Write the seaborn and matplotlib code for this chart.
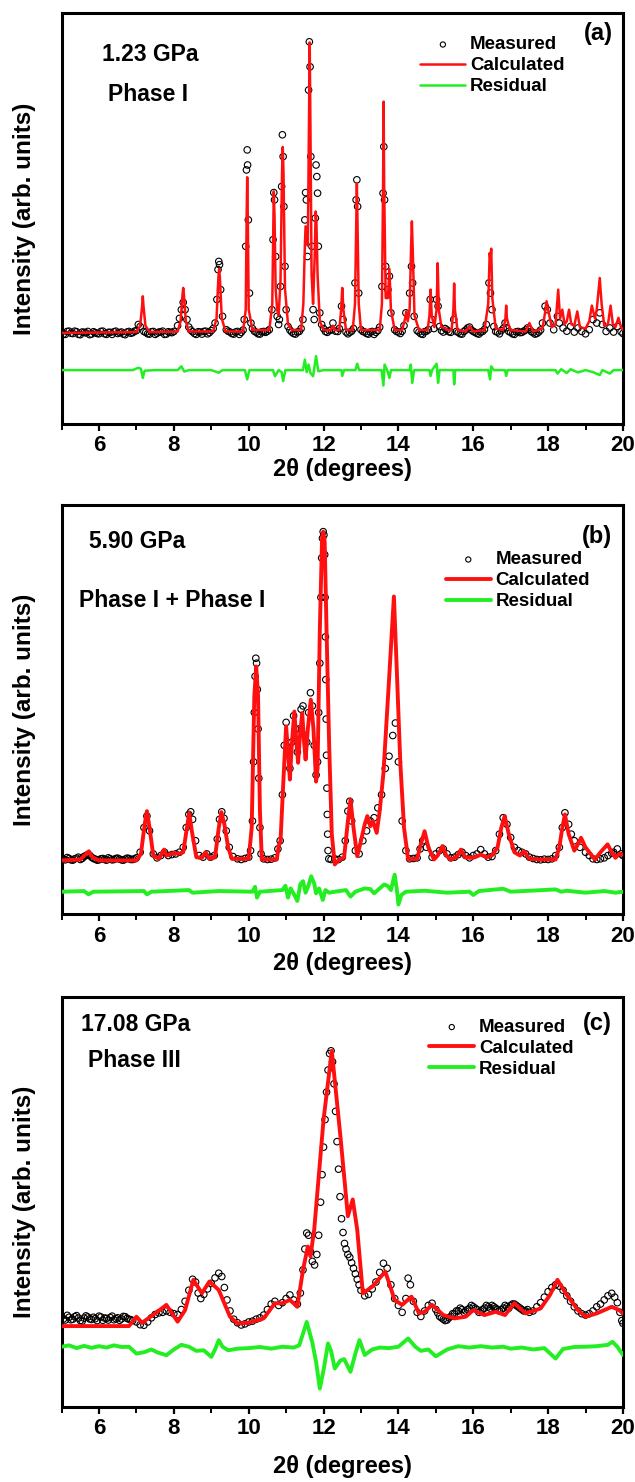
import matplotlib
matplotlib.use("Agg")
import matplotlib.pyplot as plt
import seaborn as sns
from matplotlib.ticker import MultipleLocator

# ---------------- Panel (a): 1.23 GPa, Phase I ----------------
meas_a_x = [5.0, 5.1, 5.2, 5.3, 5.4, 5.5, 5.6, 5.7, 5.8, 5.9, 6.0, 6.1, 6.2, 6.3, 6.4, 6.5, 6.6, 6.7, 6.8, 6.9,
            7.0, 7.05, 7.1, 7.2, 7.3, 7.4, 7.5, 7.6, 7.7, 7.8, 7.9, 8.0, 8.1, 8.15, 8.2, 8.25, 8.3, 8.35, 8.4, 8.5,
            8.6, 8.7, 8.8, 8.9, 9.0, 9.1, 9.15, 9.18, 9.2, 9.22, 9.25, 9.3, 9.4, 9.5, 9.6, 9.7, 9.8, 9.88, 9.92, 9.94,
            9.96, 9.97, 9.99, 10.02, 10.06, 10.15, 10.25, 10.35, 10.45, 10.55, 10.62, 10.65, 10.67, 10.69, 10.72, 10.76, 10.8, 10.82, 10.85, 10.88,
            10.9, 10.92, 10.94, 10.97, 11.0, 11.05, 11.15, 11.25, 11.35, 11.45, 11.5, 11.52, 11.54, 11.57, 11.6, 11.62, 11.64, 11.66, 11.69, 11.72,
            11.75, 11.78, 11.8, 11.82, 11.84, 11.86, 11.9, 11.95, 12.05, 12.15, 12.25, 12.32, 12.42, 12.48, 12.52, 12.6, 12.7, 12.8, 12.84, 12.87,
            12.89, 12.91, 12.94, 13.0, 13.1, 13.2, 13.3, 13.4, 13.5, 13.56, 13.59, 13.61, 13.63, 13.66, 13.72, 13.76, 13.8, 13.9, 14.0, 14.1,
            14.2, 14.3, 14.35, 14.38, 14.42, 14.5, 14.6, 14.7, 14.8, 14.85, 14.9, 14.95, 15.02, 15.06, 15.1, 15.2, 15.3, 15.4, 15.48, 15.55,
            15.65, 15.75, 15.85, 15.95, 16.05, 16.15, 16.25, 16.35, 16.42, 16.46, 16.5, 16.55, 16.65, 16.75, 16.85, 16.95, 17.05, 17.15, 17.25, 17.35,
            17.45, 17.55, 17.65, 17.75, 17.85, 17.92, 17.98, 18.05, 18.15, 18.25, 18.3, 18.4, 18.5, 18.6, 18.7, 18.8, 18.9, 19.0, 19.1, 19.2,
            19.3, 19.38, 19.45, 19.55, 19.65, 19.75, 19.85, 19.95, 20.0]
meas_a_y = [0.3, -0.5, 0.6, -0.2, 0.4, -0.6, 0.2, 0.5, -0.4, 0.1, -0.3, 0.6, -0.5, 0.2, 0.4, -0.2, 0.3, -0.6, 0.5, 0.1,
            0.8, 2.9, 2.2, 0.5, -0.3, 0.4, -0.5, 0.3, 0.6, -0.4, 0.2, 0.5, 2.5, 5.0, 8.0, 10.5, 8.0, 4.6, 2.0, 0.4,
            -0.5, 0.3, 0.5, -0.3, 0.8, 3.4, 11.5, 21.8, 24.6, 23.5, 14.9, 5.7, 1.1, 0.3, -0.4, 0.5, 0.2, 4.6, 29.8, 56.1,
            63.0, 57.8, 38.9, 13.7, 3.4, 0.6, -0.3, 0.4, 0.2, 1.1, 8.0, 32.1, 48.3, 45.8, 26.3, 5.7, 2.9, 4.6, 16.0, 50.4,
            68.2, 60.7, 43.5, 22.9, 8.0, 2.2, 0.3, -0.4, 0.5, 4.6, 38.9, 48.3, 45.8, 26.3, 83.6, 100.2, 91.6, 60.7, 29.8, 8.0,
            4.6, 39.5, 57.8, 53.8, 48.1, 29.8, 6.9, 2.9, 0.5, 0.8, 3.4, 0.6, 1.5, 9.2, 4.6, 0.3, 0.2, 1.5, 17.2, 45.8,
            52.7, 43.5, 13.7, 1.1, 0.3, -0.4, 0.5, 0.2, 2.0, 16.0, 48.1, 64.1, 45.8, 22.9, 14.9, 19.5, 6.9, 1.1, 0.3, 0.6,
            6.9, 13.7, 22.9, 17.2, 5.7, 0.8, -0.3, 0.4, 1.1, 11.5, 4.6, 1.5, 11.5, 9.2, 2.2, 0.3, 1.0, 0.2, 4.6, 0.5,
            -0.3, 0.5, 1.7, 1.0, 0.2, -0.4, 0.5, 2.9, 17.2, 13.7, 8.0, 2.2, 0.3, 0.8, 3.4, 0.5, -0.3, 0.4, 0.1, 0.6,
            1.7, 0.5, -0.4, 0.3, 3.4, 9.2, 8.0, 3.4, 1.1, 5.7, 3.4, 1.7, 0.6, 2.2, 0.3, 1.7, 0.5, -0.3, 1.1, 4.6,
            3.4, 6.9, 2.9, 0.5, 1.7, 0.3, 2.2, 0.4, -0.2]
# extra background readings (interleaved)
meas_a_x2 = [5.05, 5.15, 5.25, 5.35, 5.45, 5.55, 5.65, 5.75, 5.85, 5.95, 6.05, 6.15, 6.25, 6.35, 6.45, 6.55, 6.65, 6.75, 6.85, 6.95,
             7.25, 7.35, 7.45, 7.55, 7.65, 7.75, 7.85, 7.95, 8.45, 8.55, 8.65, 8.75, 8.85, 8.95, 9.05, 9.45, 9.55, 9.65, 9.75, 9.85,
             10.1, 10.2, 10.3, 10.4, 10.5, 11.1, 11.2, 11.3, 11.4, 12.0, 12.1, 12.2, 12.38, 12.65, 12.75, 13.05, 13.15, 13.25, 13.35, 13.45,
             13.95, 14.05, 14.15, 14.55, 14.65, 14.75, 15.15, 15.25, 15.35, 15.6, 15.7, 15.8, 15.9, 16.0, 16.1, 16.2, 16.3, 16.6, 16.7, 16.8,
             16.9, 17.0, 17.1, 17.2, 17.3, 17.4, 17.5, 17.6, 17.7, 17.8]
meas_a_y2 = [-0.4, 0.5, -0.1, 0.6, -0.5, 0.3, 0.0, -0.6, 0.4, -0.2, 0.5, -0.3, 0.2, -0.5, 0.6, 0.1, -0.4, 0.3, -0.1, 0.6,
             0.2, -0.4, 0.5, -0.1, 0.3, -0.5, 0.4, 0.1, 1.0, -0.2, 0.4, -0.4, 0.6, 0.1, 1.5, 0.6, -0.2, 0.3, -0.5, 1.0,
             1.5, 0.2, -0.4, 0.5, 0.6, 1.0, -0.2, 0.3, 1.5, 1.5, 0.2, 1.0, 0.5, -0.3, 0.6, 0.5, -0.2, 0.3, -0.5, 0.8,
             0.5, -0.2, 2.5, 0.3, -0.5, 0.6, 0.8, 1.5, 0.4, 0.2, -0.4, 1.0, 2.0, 0.5, -0.2, 0.3, 1.2, 0.5, -0.3, 1.5,
             1.8, 0.2, -0.5, 0.5, 0.2, 1.0, 1.2, 0.1, -0.2, 1.0]

calc_a_x = [5.0, 7.0, 7.1, 7.15, 7.17, 7.19, 7.24, 7.35, 8.1, 8.18, 8.23, 8.25, 8.27, 8.32, 8.4,
            9.05, 9.14, 9.19, 9.21, 9.23, 9.28, 9.38, 9.85, 9.92, 9.945, 9.96, 9.975, 10.0, 10.1,
            10.55, 10.63, 10.66, 10.67, 10.69, 10.72, 10.76, 10.8, 10.85, 10.89, 10.91, 10.93, 10.97, 11.05, 11.15,
            11.4, 11.46, 11.5, 11.52, 11.58, 11.61, 11.63, 11.65, 11.68, 11.72, 11.76, 11.79, 11.81, 11.84, 11.9, 12.0,
            12.2, 12.25, 12.3, 12.42, 12.47, 12.5, 12.53, 12.6, 12.78, 12.84, 12.875, 12.89, 12.905, 12.94, 13.0,
            13.5, 13.56, 13.59, 13.605, 13.62, 13.66, 13.72, 13.76, 13.8, 13.9,
            14.1, 14.18, 14.21, 14.25, 14.3, 14.34, 14.36, 14.38, 14.43, 14.55,
            14.78, 14.83, 14.86, 14.89, 14.96, 15.02, 15.05, 15.08, 15.15, 15.22, 15.3, 15.42, 15.47, 15.49, 15.51, 15.58,
            15.8, 15.9, 16.0, 16.3, 16.4, 16.44, 16.46, 16.48, 16.51, 16.6, 16.8, 16.86, 16.88, 16.9, 16.98,
            17.4, 17.5, 17.6, 17.85, 17.92, 17.96, 18.0, 18.1, 18.2, 18.27, 18.32, 18.38, 18.44, 18.5, 18.56, 18.62,
            18.7, 18.78, 18.85, 19.0, 19.1, 19.17, 19.25, 19.3, 19.38, 19.43, 19.5, 19.6, 19.67, 19.73, 19.8, 19.88, 19.95, 20.0]
calc_a_y = [0.0, 0.3, 2.5, 9.0, 12.6, 9.0, 2.5, 0.3, 0.5, 4.0, 13.0, 15.5, 13.0, 4.0, 0.5,
            0.5, 5.0, 19.0, 22.0, 19.0, 5.0, 0.5, 0.5, 8.0, 40.0, 53.6, 40.0, 8.0, 1.0,
            1.0, 10.0, 40.0, 48.7, 40.0, 15.0, 8.0, 6.0, 18.0, 55.0, 64.0, 55.0, 15.0, 3.0, 1.0,
            1.0, 10.0, 30.0, 36.7, 30.0, 70.0, 100.0, 70.0, 20.0, 10.0, 25.0, 41.8, 38.0, 20.0, 4.0, 1.0,
            1.0, 2.5, 1.0, 1.0, 8.0, 15.5, 8.0, 1.0, 1.0, 10.0, 40.0, 51.5, 40.0, 10.0, 1.0,
            1.0, 10.0, 50.0, 79.6, 50.0, 12.0, 12.0, 22.0, 8.0, 1.0,
            1.0, 5.0, 7.4, 4.0, 8.0, 30.0, 38.4, 30.0, 6.0, 1.0,
            1.0, 6.0, 14.9, 6.0, 2.0, 8.0, 24.0, 8.0, 2.0, 1.8, 1.0, 1.0, 8.0, 17.0, 8.0, 1.0,
            0.5, 2.3, 0.5, 1.0, 10.0, 27.5, 25.0, 29.0, 12.0, 1.5, 1.0, 5.0, 9.4, 5.0, 1.0,
            0.5, 3.4, 0.5, 1.5, 7.0, 10.9, 8.0, 2.0, 3.0, 14.9, 5.0, 8.0, 3.0, 4.0, 8.0, 3.0,
            2.5, 7.4, 2.0, 1.5, 4.0, 9.4, 5.0, 8.0, 18.9, 10.0, 2.5, 3.0, 9.4, 3.0, 2.0, 5.2, 2.0, 1.0]

res_a_x = [5.0, 6.9, 7.05, 7.12, 7.17, 7.22, 7.5, 8.1, 8.2, 8.28, 8.4, 9.0, 9.2, 9.3, 9.9, 9.96, 10.02,
           10.65, 10.7, 10.8, 10.88, 10.92, 10.98, 11.45, 11.5, 11.55, 11.6, 11.65, 11.72, 11.8, 11.86, 12.0,
           12.48, 12.5, 12.55, 12.85, 12.9, 12.95, 13.55, 13.6, 13.63, 13.7, 13.76, 13.8, 14.3, 14.33, 14.37, 14.42,
           14.83, 14.86, 14.9, 15.02, 15.06, 15.1, 15.47, 15.49, 15.52, 16.4, 16.45, 16.48, 16.55, 16.85, 16.88, 16.92,
           18.2, 18.25, 18.35, 18.5, 18.6, 18.8, 19.0, 19.2, 19.38, 19.45, 19.65, 19.75, 20.0]
res_a_y = [-12.8, -12.8, -12.0, -12.3, -15.5, -13.0, -12.8, -12.8, -11.5, -13.3, -12.8, -12.8, -13.7, -12.8, -12.8, -16.0, -12.8,
           -12.8, -14.9, -12.8, -13.5, -16.6, -12.8, -12.8, -9.2, -13.5, -10.9, -13.8, -14.9, -8.0, -13.2, -12.8,
           -12.8, -14.8, -12.8, -12.8, -10.6, -12.8, -12.8, -18.1, -10.9, -12.8, -15.5, -12.8, -12.8, -10.9, -17.2, -12.8,
           -12.8, -14.8, -12.8, -10.6, -17.2, -12.8, -12.8, -17.7, -12.8, -12.8, -16.0, -11.5, -12.8, -12.8, -14.8, -12.8,
           -12.8, -14.0, -12.5, -13.8, -12.5, -13.6, -12.8, -13.5, -14.5, -12.8, -14.0, -12.8, -12.8]

# ---------------- Panel (b): 5.90 GPa ----------------
meas_b_x = [5.0, 5.1, 5.2, 5.3, 5.4, 5.5, 5.6, 5.7, 5.8, 5.9, 6.0, 6.1, 6.2, 6.3, 6.4, 6.5, 6.6, 6.7, 6.8, 6.9,
            7.0, 7.1, 7.2, 7.28, 7.35, 7.45, 7.55, 7.65, 7.75, 7.85, 7.95, 8.05, 8.15, 8.25, 8.33, 8.4, 8.45, 8.5, 8.58, 8.68,
            8.78, 8.88, 8.98, 9.08, 9.16, 9.22, 9.28, 9.34, 9.4, 9.48, 9.58, 9.7, 9.8, 9.9, 10.0, 10.05, 10.1, 10.13, 10.15, 10.17,
            10.19, 10.21, 10.23, 10.25, 10.27, 10.3, 10.33, 10.4, 10.5, 10.6, 10.7, 10.78, 10.84, 10.9, 10.95, 11.0, 11.05, 11.1, 11.15, 11.2,
            11.25, 11.3, 11.35, 11.4, 11.45, 11.5, 11.55, 11.6, 11.65, 11.7, 11.75, 11.8, 11.84, 11.87, 11.9, 11.93, 11.95, 11.97, 11.99, 12.01,
            12.03, 12.04, 12.05, 12.06, 12.07, 12.08, 12.09, 12.1, 12.11, 12.12, 12.14, 12.2, 12.3, 12.4, 12.5, 12.58, 12.65, 12.7, 12.75, 12.85,
            12.95, 13.05, 13.15, 13.25, 13.35, 13.45, 13.55, 13.65, 13.75, 13.85, 13.92, 14.0, 14.1, 14.2, 14.3, 14.4, 14.5, 14.58, 14.65, 14.75,
            14.9, 15.0, 15.1, 15.2, 15.3, 15.4, 15.5, 15.6, 15.7, 15.8, 15.9, 16.0, 16.1, 16.2, 16.3, 16.4, 16.5, 16.6, 16.7, 16.8,
            16.9, 17.0, 17.1, 17.2, 17.3, 17.4, 17.5, 17.6, 17.7, 17.8, 17.9, 18.0, 18.1, 18.2, 18.3, 18.38, 18.45, 18.55, 18.62, 18.7,
            18.85, 19.0, 19.1, 19.2, 19.3, 19.4, 19.5, 19.6, 19.7, 19.75, 19.85, 19.95, 20.0]
meas_b_y = [0.8, 0.2, 0.6, 0.1, 0.7, 0.3, 1.2, 1.8, 1.0, 0.4, 0.2, 0.6, 0.1, 0.5, 0.3, 0.7, 0.2, 0.4, 0.6, 0.3,
            0.8, 2.5, 10.0, 13.5, 9.0, 2.0, 0.8, 1.5, 2.5, 1.5, 1.8, 2.0, 2.5, 4.0, 10.0, 14.0, 14.8, 12.5, 6.0, 1.5,
            1.0, 2.0, 1.0, 1.5, 6.5, 12.5, 14.8, 12.8, 9.0, 4.0, 1.2, 0.5, 0.3, 0.6, 1.0, 3.0, 12.0, 30.0, 45.0, 56.0,
            61.5, 60.0, 52.0, 40.0, 25.0, 10.0, 2.0, 0.5, 0.3, 0.4, 0.8, 3.5, 6.0, 20.0, 35.0, 42.0, 34.0, 28.0, 36.0, 44.0,
            40.0, 33.0, 40.0, 46.0, 47.0, 38.0, 36.0, 45.0, 51.0, 47.0, 35.0, 26.0, 30.0, 45.0, 60.0, 80.0, 92.0, 98.0, 100.0, 99.0,
            93.0, 80.0, 68.0, 55.0, 43.0, 32.0, 22.0, 14.0, 8.0, 3.0, 0.5, 0.3, 0.5, 0.3, 1.0, 6.0, 15.0, 18.0, 12.0, 3.0,
            2.0, 6.0, 9.0, 12.0, 13.0, 16.0, 20.0, 28.0, 31.7, 38.0, 41.8, 30.0, 12.0, 3.0, 0.5, 0.6, 0.8, 3.5, 6.0, 4.0,
            1.0, 2.0, 3.0, 3.5, 2.0, 0.8, 1.0, 1.8, 2.5, 1.5, 0.8, 1.5, 2.0, 3.3, 2.0, 1.0, 1.2, 3.0, 8.0, 13.0,
            11.0, 7.0, 4.0, 3.0, 2.5, 2.0, 1.0, 0.6, 0.3, 0.2, 0.4, 0.3, 0.5, 1.5, 4.0, 10.0, 14.5, 11.0, 8.0, 6.0,
            4.0, 2.5, 1.5, 0.5, 0.3, 0.5, 0.8, 1.5, 2.2, 2.5, 3.5, 2.0, 1.5]
meas_b_x2 = [5.05, 5.15, 5.25, 5.35, 5.45, 5.55, 5.65, 5.75, 5.85, 5.95, 6.05, 6.15, 6.25, 6.35, 6.45, 6.55, 6.65, 6.75, 6.85, 6.95]
meas_b_y2 = [0.4, 0.9, 0.2, 0.5, 1.0, 0.6, 1.5, 1.6, 0.6, 0.1, 0.5, 0.3, 0.8, 0.2, 0.6, 0.4, 0.1, 0.7, 0.3, 0.5]

calc_b_x = [5.0, 5.5, 5.65, 5.73, 5.82, 6.0, 7.0, 7.12, 7.22, 7.28, 7.35, 7.45, 7.6, 7.7, 7.74, 7.8, 7.92, 8.0, 8.12,
            8.25, 8.35, 8.41, 8.48, 8.6, 8.75, 8.85, 8.95, 9.1, 9.2, 9.27, 9.35, 9.45, 9.55, 10.0, 10.08, 10.15, 10.2,
            10.25, 10.3, 10.35, 10.75, 10.8, 10.85, 10.93, 11.0, 11.07, 11.1, 11.15, 11.22, 11.28, 11.32, 11.37, 11.43,
            11.48, 11.52, 11.58, 11.66, 11.73, 11.8, 11.84, 11.9, 11.96, 11.99, 12.03, 12.08, 12.15, 12.22, 12.3, 12.4,
            12.55, 12.65, 12.72, 12.8, 12.9, 13.0, 13.1, 13.17, 13.25, 13.32, 13.42, 13.5, 13.6, 13.75, 13.88, 13.95,
            14.05, 14.15, 14.26, 14.5, 14.6, 14.7, 14.8, 14.95, 15.05, 15.18, 15.28, 15.4, 15.55, 15.67, 15.78, 15.9,
            16.05, 16.2, 16.35, 16.5, 16.65, 16.75, 16.84, 16.95, 17.1, 17.25, 17.36, 17.5, 17.8, 18.2, 18.3, 18.38,
            18.45, 18.55, 18.7, 18.8, 18.88, 19.0, 19.25, 19.4, 19.59, 19.7, 19.8, 19.9, 20.0]
calc_b_y = [0.0, 0.3, 2.0, 2.8, 1.0, 0.0, 0.0, 2.0, 11.0, 15.0, 10.0, 1.5, 0.5, 2.5, 3.3, 1.5, 2.0, 2.3, 2.0,
            2.5, 10.0, 14.5, 9.0, 1.0, 0.8, 2.5, 0.5, 1.0, 10.0, 14.7, 11.0, 4.0, 0.5, 0.5, 10.0, 50.0, 59.0,
            50.0, 15.0, 0.3, 0.3, 4.4, 6.0, 25.0, 40.8, 30.0, 24.6, 35.0, 45.3, 35.0, 29.7, 38.0, 44.8,
            36.0, 30.7, 40.0, 48.9, 40.0, 24.0, 28.0, 70.0, 98.0, 100.0, 97.0, 70.0, 35.0, 8.0, -1.2, 0.0,
            1.0, 12.0, 18.5, 10.0, 1.3, 6.0, 11.0, 13.5, 10.4, 12.0, 8.4, 15.0, 26.6, 55.0, 80.3, 60.0,
            30.0, 10.0, 0.3, 0.5, 5.0, 8.9, 4.0, 0.3, 1.5, 4.4, 1.5, 0.3, 1.0, 3.3, 1.0, 0.8,
            1.0, 1.8, 1.0, 1.5, 4.0, 10.0, 13.5, 8.0, 2.5, 1.5, 2.8, 0.5, 0.3, 0.3, 4.0, 10.0,
            14.0, 8.0, 3.0, 5.0, 6.9, 4.0, 0.3, 2.5, 4.9, 2.5, 0.8, 2.0, 1.8]

res_b_x = [5.0, 5.6, 5.72, 5.85, 7.2, 7.28, 7.4, 8.4, 8.5, 9.2, 10.1, 10.17, 10.22, 10.3, 10.9, 10.98, 11.05, 11.12,
           11.22, 11.3, 11.38, 11.45, 11.52, 11.6, 11.67, 11.75, 11.8, 11.88, 11.98, 12.05, 12.15, 12.3, 12.6, 12.72,
           12.85, 13.1, 13.25, 13.35, 13.5, 13.62, 13.72, 13.8, 13.9, 13.96, 14.0, 14.08, 14.2, 14.7, 15.3, 15.9, 16.0,
           16.15, 16.8, 17.0, 18.2, 18.35, 18.5, 19.0, 19.5, 19.8, 20.0]
res_b_y = [-9.5, -9.3, -10.3, -9.5, -9.3, -10.3, -9.5, -9.0, -9.8, -9.3, -9.5, -8.0, -11.3, -9.5, -9.0, -7.7, -11.3, -8.5,
           -10.5, -12.3, -7.2, -6.3, -9.8, -7.5, -4.8, -7.0, -10.0, -8.5, -12.0, -9.0, -9.8, -9.5, -9.0, -11.0,
           -9.5, -8.5, -8.7, -10.0, -8.5, -7.3, -7.8, -9.0, -4.3, -9.0, -13.4, -10.5, -9.5, -9.2, -9.8, -9.5, -10.5,
           -9.3, -8.6, -9.5, -8.8, -9.5, -9.2, -9.8, -9.3, -9.8, -9.5]

# ---------------- Panel (c): 17.08 GPa, Phase III ----------------
meas_c_x = [5.0, 5.1, 5.2, 5.3, 5.4, 5.5, 5.6, 5.7, 5.8, 5.9, 6.0, 6.1, 6.2, 6.3, 6.4, 6.5, 6.6, 6.7, 6.8, 6.9,
            7.0, 7.1, 7.2, 7.3, 7.4, 7.5, 7.6, 7.7, 7.8, 7.9, 8.0, 8.1, 8.2, 8.3, 8.4, 8.5, 8.58, 8.65, 8.72, 8.8,
            8.9, 9.0, 9.1, 9.2, 9.28, 9.35, 9.42, 9.5, 9.6, 9.7, 9.8, 9.9, 10.0, 10.1, 10.2, 10.3, 10.4, 10.5, 10.6, 10.7,
            10.8, 10.9, 11.0, 11.1, 11.2, 11.3, 11.38, 11.45, 11.5, 11.55, 11.6, 11.65, 11.7, 11.76, 11.82, 11.87, 11.92, 11.96, 12.0, 12.04,
            12.08, 12.12, 12.16, 12.2, 12.24, 12.28, 12.32, 12.36, 12.4, 12.44, 12.48, 12.52, 12.56, 12.6, 12.65, 12.7, 12.75, 12.8, 12.85, 12.9,
            12.95, 13.0, 13.1, 13.2, 13.3, 13.4, 13.5, 13.6, 13.7, 13.8, 13.9, 14.0, 14.1, 14.2, 14.26, 14.32, 14.4, 14.5, 14.6, 14.7,
            14.8, 14.9, 15.0, 15.1, 15.2, 15.3, 15.4, 15.5, 15.6, 15.7, 15.8, 15.9, 16.0, 16.1, 16.2, 16.3, 16.4, 16.5, 16.6, 16.7,
            16.8, 16.9, 17.0, 17.1, 17.2, 17.3, 17.4, 17.5, 17.6, 17.7, 17.8, 17.9, 18.0, 18.1, 18.2, 18.3, 18.4, 18.5, 18.6, 18.7,
            18.8, 18.9, 19.0, 19.1, 19.2, 19.3, 19.4, 19.5, 19.6, 19.7, 19.78, 19.85, 19.92, 19.97, 20.0]
meas_c_y = [3.5, 2.2, 3.2, 2.5, 3.8, 2.0, 2.9, 3.3, 2.4, 2.7, 3.6, 2.1, 2.8, 3.1, 2.3, 3.0, 2.6, 3.4, 2.5, 2.0,
            1.5, 0.5, 0.3, 1.5, 3.0, 4.2, 4.8, 5.0, 5.5, 5.0, 4.5, 4.2, 6.0, 9.0, 13.0, 17.0, 16.0, 12.0, 10.0, 11.5,
            13.5, 15.5, 17.5, 19.2, 18.0, 14.0, 9.5, 5.5, 2.5, 1.2, 0.4, 0.8, 1.5, 1.8, 2.5, 3.0, 4.0, 6.0, 8.0, 9.0,
            7.5, 8.5, 10.0, 11.3, 9.5, 8.0, 12.0, 20.4, 28.0, 33.8, 33.0, 27.0, 23.5, 22.2, 26.0, 33.0, 45.0, 55.0, 65.0, 75.0,
            85.0, 93.0, 99.0, 100.0, 96.0, 88.0, 78.0, 67.0, 57.0, 47.0, 39.0, 34.0, 30.0, 28.0, 26.0, 25.0, 23.0, 21.0, 19.0, 17.0,
            15.0, 13.0, 11.0, 11.5, 13.5, 16.0, 19.5, 22.8, 21.0, 15.0, 10.0, 7.5, 5.0, 10.0, 17.4, 15.0, 9.0, 5.0, 3.5, 5.5,
            7.5, 8.3, 6.0, 3.5, 2.5, 2.2, 3.5, 4.5, 5.5, 6.0, 5.5, 6.5, 7.0, 6.0, 5.5, 6.5, 7.0, 7.5, 6.5, 5.5,
            6.5, 7.0, 7.5, 8.0, 7.0, 6.0, 5.5, 5.0, 5.5, 7.0, 8.5, 10.5, 12.5, 14.0, 15.0, 14.5, 13.0, 11.0, 9.0, 7.0,
            5.5, 4.5, 4.0, 4.5, 5.5, 7.0, 8.0, 9.5, 11.0, 11.9, 10.5, 8.5, 5.0, 2.0, 1.0]
meas_c_x2 = [5.05, 5.15, 5.25, 5.35, 5.45, 5.55, 5.65, 5.75, 5.85, 5.95, 6.05, 6.15, 6.25, 6.35, 6.45, 6.55, 6.65, 6.75, 6.85,
             15.05, 15.15, 15.25, 15.35, 15.45, 15.55, 15.65, 15.75, 15.85, 15.95, 16.05, 16.15, 16.25, 16.35, 16.45, 16.55,
             16.65, 16.75, 16.85, 16.95, 17.05, 17.15, 17.25, 17.35, 17.45]
meas_c_y2 = [2.6, 3.9, 2.3, 3.4, 2.9, 1.8, 3.7, 2.6, 3.2, 2.0, 3.3, 2.9, 2.2, 3.6, 2.7, 2.1, 3.5, 2.8, 2.3,
             4.8, 3.0, 2.0, 3.0, 4.5, 5.5, 6.5, 5.0, 6.0, 7.5, 6.5, 5.0, 6.0, 7.5, 6.5, 7.0,
             6.0, 6.0, 7.5, 6.5, 8.0, 7.5, 6.5, 5.5, 6.0]

calc_c_x = [5.0, 6.8, 7.0, 7.15, 7.5, 7.8, 8.1, 8.3, 8.52, 8.75, 8.95, 9.2, 9.5, 9.7, 10.0, 10.4, 10.7, 10.9, 11.1,
            11.3, 11.45, 11.58, 11.65, 11.75, 12.0, 12.22, 12.45, 12.65, 12.78, 12.9, 13.05, 13.3, 13.65, 13.9, 14.1,
            14.35, 14.55, 14.7, 14.9, 15.2, 15.5, 15.8, 16.0, 16.3, 16.6, 16.85, 17.1, 17.4, 17.8, 18.05, 18.25, 18.5,
            18.8, 19.0, 19.3, 19.7, 19.9, 20.0]
calc_c_y = [0.0, 0.0, 3.4, 1.2, 4.6, 7.7, 1.6, 5.8, 16.8, 11.9, 16.2, 13.1, 3.4, 1.0, 1.2, 2.8, 8.3, 8.3, 9.5,
            7.0, 20.4, 28.9, 25.3, 35.0, 75.0, 100.0, 69.0, 39.9, 46.0, 35.0, 11.9, 14.3, 19.8, 9.5, 7.7,
            10.7, 4.6, 5.2, 7.7, 4.0, 2.8, 3.4, 5.8, 4.0, 5.2, 4.0, 8.3, 4.6, 6.4, 11.3, 16.8, 11.3,
            5.8, 3.4, 4.6, 7.0, 5.8, 4.6]

res_c_x = [5.0, 5.2, 5.4, 5.6, 5.8, 6.0, 6.2, 6.4, 6.6, 6.8, 7.0, 7.2, 7.4, 7.55, 7.8, 8.0, 8.2, 8.4, 8.6, 8.8,
           9.0, 9.1, 9.2, 9.3, 9.45, 9.7, 10.0, 10.3, 10.6, 10.9, 11.2, 11.35, 11.55, 11.7, 11.8, 11.9, 12.0, 12.12,
           12.2, 12.3, 12.45, 12.55, 12.72, 12.85, 12.96, 13.1, 13.3, 13.5, 13.75, 14.0, 14.26, 14.45, 14.6, 14.8,
           15.0, 15.3, 15.6, 15.9, 16.2, 16.5, 16.8, 17.0, 17.3, 17.6, 17.9, 18.2, 18.4, 18.7, 19.0, 19.3, 19.6,
           19.72, 19.85, 20.0]
res_c_y = [-7.5, -7.0, -8.0, -7.2, -7.9, -7.3, -7.8, -7.0, -7.6, -7.5, -10.0, -9.5, -8.5, -9.5, -10.6, -8.5, -6.8, -7.5, -9.0, -8.8,
           -11.2, -8.5, -5.1, -7.5, -8.8, -8.2, -8.0, -7.6, -8.2, -7.5, -7.8, -7.0, 1.5, -6.0, -13.0, -22.7, -16.0, -6.3,
           -9.0, -15.4, -12.5, -12.0, -16.6, -10.0, -5.1, -10.5, -8.5, -7.8, -8.0, -7.5, -4.5, -7.5, -9.0, -8.5,
           -11.0, -8.5, -7.3, -7.8, -7.3, -7.8, -7.5, -8.2, -7.8, -8.5, -8.0, -11.8, -8.3, -7.6, -7.5, -7.3, -6.8,
           -5.7, -7.5, -10.5]

pressure_labels = ["1.23 GPa", "5.90 GPa", "17.08 GPa"]
phase_labels = ["Phase I", "Phase I + Phase I", "Phase III"]
panel_tags = ["(a)", "(b)", "(c)"]
series_names = ["Measured", "Calculated", "Residual"]
x_ticks = [6, 8, 10, 12, 14, 16, 18, 20]

# ---------------- styling ----------------
sns.set_theme(style="white")
plt.rcParams["font.family"] = ["Liberation Sans", "DejaVu Sans"]
plt.rcParams["font.weight"] = "bold"
plt.rcParams["axes.labelweight"] = "bold"
plt.rcParams["text.color"] = "black"
plt.rcParams["axes.labelcolor"] = "black"
plt.rcParams["xtick.color"] = "black"
plt.rcParams["ytick.color"] = "black"
plt.rcParams["axes.edgecolor"] = "black"

RED = "#ff1010"
GREEN = "#22ee22"

fig = plt.figure(figsize=(6.35, 14.82), dpi=100)

panels = [
    dict(meas=(meas_a_x + meas_a_x2, meas_a_y + meas_a_y2), calc=(calc_a_x, calc_a_y), res=(res_a_x, res_a_y),
         rect=[0.097, 0.714, 0.884, 0.277], ylim=(-31.3, 110.0), lw=1.8,
         p_xy=(0.1606, 0.9629), ph_xy=(0.170, 0.9359), tag_xy=(0.943, 0.9777),
         leg_xy=(0.662, 0.9755), xlab_y=-0.083),
    dict(meas=(meas_b_x + meas_b_x2, meas_b_y + meas_b_y2), calc=(calc_b_x, calc_b_y), res=(res_b_x, res_b_y),
         rect=[0.097, 0.383, 0.884, 0.276], ylim=(-16.4, 108.0), lw=2.8,
         p_xy=(0.140, 0.6343), ph_xy=(0.1244, 0.5951), tag_xy=(0.940, 0.6377),
         leg_xy=(0.702, 0.6280), xlab_y=-0.093),
    dict(meas=(meas_c_x + meas_c_x2, meas_c_y + meas_c_y2), calc=(calc_c_x, calc_c_y), res=(res_c_x, res_c_y),
         rect=[0.097, 0.0506, 0.884, 0.2764], ylim=(-29.4, 119.4), lw=2.8,
         p_xy=(0.1276, 0.3084), ph_xy=(0.1386, 0.2841), tag_xy=(0.940, 0.3097),
         leg_xy=(0.676, 0.3125), xlab_y=-0.118),
]

for i, p in enumerate(panels):
    ax = fig.add_axes(p["rect"])
    mx, my = p["meas"]
    cx, cy = p["calc"]
    rx, ry = p["res"]
    sns.scatterplot(x=mx, y=my, ax=ax, marker="o", s=22, facecolor="none",
                    edgecolor="black", linewidth=0.8, label=series_names[0], zorder=2)
    sns.lineplot(x=cx, y=cy, ax=ax, color=RED, lw=p["lw"], sort=False, estimator=None,
                 label=series_names[1], zorder=3)
    sns.lineplot(x=rx, y=ry, ax=ax, color=GREEN, lw=p["lw"], sort=False, estimator=None,
                 label=series_names[2], zorder=3)

    ax.set_xlim(5, 20)
    ax.set_ylim(*p["ylim"])
    ax.set_yticks([])
    ax.set_xticks(x_ticks)
    ax.xaxis.set_minor_locator(MultipleLocator(1))
    ax.tick_params(axis="x", which="major", bottom=True, direction="out", length=5,
                   width=1.6, labelsize=16, pad=3, colors="black")
    ax.tick_params(axis="x", which="minor", bottom=True, direction="out", length=4,
                   width=1.4, colors="black")
    for lab in ax.get_xticklabels():
        lab.set_fontweight("bold")
    for sp in ax.spines.values():
        sp.set_linewidth(2.2)
        sp.set_color("black")

    ax.set_xlabel("2θ (degrees)", fontsize=17, fontweight="bold", color="black")
    ax.xaxis.set_label_coords(0.5, p["xlab_y"])
    ax.set_ylabel("Intensity (arb. units)", fontsize=17.5, fontweight="bold", color="black")
    ax.yaxis.set_label_coords(-0.045, 0.5)

    leg = ax.legend(loc="upper left", bbox_to_anchor=p["leg_xy"], bbox_transform=fig.transFigure,
                    frameon=False, prop=dict(weight="bold", size=13.5), handlelength=2.4,
                    handletextpad=0.25, labelspacing=0.2, borderpad=0, borderaxespad=0,
                    markerscale=0.8)
    for t in leg.get_texts():
        t.set_color("black")

    fig.text(p["p_xy"][0], p["p_xy"][1], pressure_labels[i], fontsize=16.5, fontweight="bold",
             ha="left", va="center", color="black")
    fig.text(p["ph_xy"][0], p["ph_xy"][1], phase_labels[i], fontsize=16.5, fontweight="bold",
             ha="left", va="center", color="black")
    fig.text(p["tag_xy"][0], p["tag_xy"][1], panel_tags[i], fontsize=17, fontweight="bold",
             ha="center", va="center", color="black")

fig.savefig("out.png", dpi=100, facecolor="white")
